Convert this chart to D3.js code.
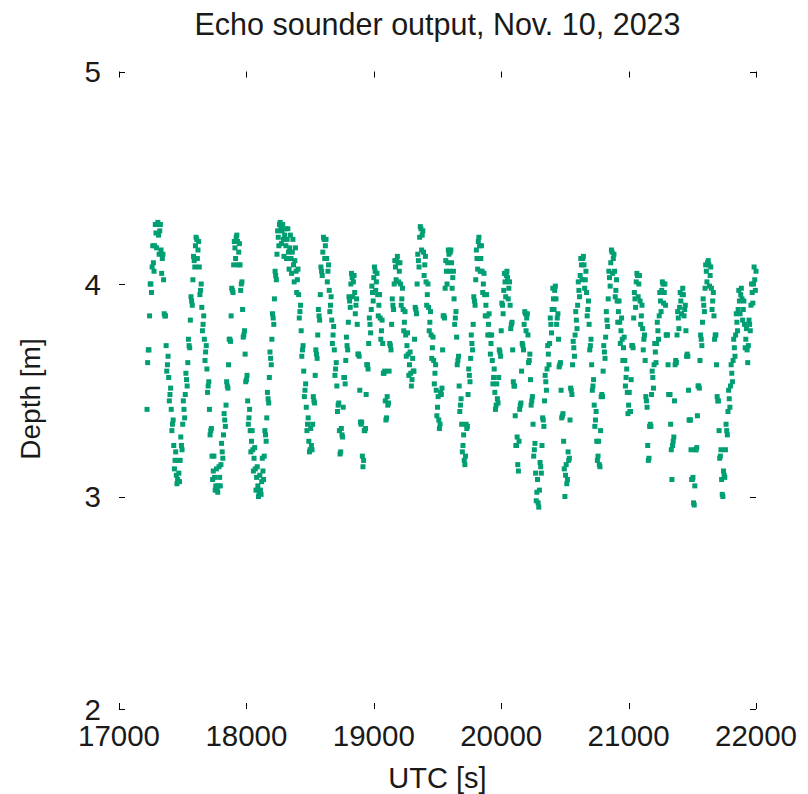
<!DOCTYPE html>
<html lang="en">
<head>
    <meta charset="UTF-8">
    <title>Echo sounder output</title>
    <script src="https://d3js.org/d3.v7.min.js"></script>
    <style>
        body { margin: 0; background: #fff; }
        svg text { font-family: "Liberation Sans", Arial, sans-serif; fill: #1a1a1a; }
    </style>
</head>
<body>
    <svg width="808" height="794"></svg>
    <script>
        // echo sounder record, one reading every 5 s
        const t0 = 17220, dt = 5;
        const depth = [
            3.41,3.63,3.69,3.69,3.85,4.00,4.00,3.96,4.08,4.18,4.10,4.06,4.18,4.28,4.24,4.17,4.28,4.29,4.23,4.14,
            4.25,4.28,4.16,4.05,4.12,4.14,4.02,3.86,3.85,3.85,3.71,3.59,3.62,3.66,3.56,3.45,3.48,3.51,3.41,3.31,
            3.34,3.36,3.24,3.13,3.17,3.21,3.10,3.06,3.08,3.17,3.11,3.07,3.17,3.28,3.24,3.22,3.34,3.45,3.41,3.37,
            3.48,3.58,3.55,3.52,3.63,3.74,3.71,3.70,3.83,3.94,3.92,3.90,4.02,4.13,4.11,4.08,4.18,4.22,4.21,4.12,
            4.16,4.20,4.08,3.95,3.97,4.00,3.89,3.78,3.81,3.85,3.74,3.64,3.68,3.71,3.60,3.49,3.52,3.54,3.41,3.29,
            3.31,3.32,3.19,3.08,3.12,3.19,3.09,3.03,3.05,3.13,3.03,3.02,3.05,3.14,3.09,3.05,3.15,3.25,3.21,3.18,
            3.29,3.39,3.36,3.33,3.43,3.54,3.52,3.51,3.62,3.74,3.74,3.73,3.85,3.98,3.97,3.96,4.09,4.20,4.17,4.12,
            4.22,4.23,4.20,4.09,4.15,4.19,4.09,3.97,4.00,4.01,3.88,3.75,3.76,3.78,3.67,3.54,3.55,3.57,3.45,3.34,
            3.37,3.41,3.31,3.21,3.26,3.31,3.22,3.12,3.18,3.23,3.13,3.03,3.09,3.14,3.05,3.00,3.02,3.10,3.03,3.01,
            3.07,3.18,3.12,3.08,3.19,3.31,3.29,3.26,3.37,3.49,3.46,3.44,3.56,3.68,3.65,3.62,3.74,3.86,3.84,3.81,
            3.93,4.06,4.04,4.02,4.14,4.25,4.22,4.18,4.28,4.29,4.27,4.19,4.25,4.28,4.21,4.13,4.23,4.26,4.18,4.12,
            4.21,4.26,4.15,4.07,4.17,4.23,4.12,4.05,4.15,4.21,4.09,4.01,4.11,4.17,4.06,3.96,4.02,4.07,3.95,3.84,
            3.87,3.90,3.78,3.66,3.69,3.71,3.59,3.47,3.50,3.53,3.42,3.31,3.34,3.37,3.26,3.21,3.22,3.32,3.24,3.22,
            3.34,3.47,3.45,3.44,3.57,3.69,3.67,3.65,3.76,3.88,3.85,3.83,3.95,4.08,4.06,4.04,4.15,4.22,4.21,4.12,
            4.18,4.21,4.12,4.01,4.06,4.09,3.97,3.87,3.90,3.94,3.83,3.72,3.76,3.80,3.69,3.57,3.60,3.63,3.52,3.40,
            3.43,3.44,3.31,3.20,3.21,3.32,3.29,3.28,3.42,3.56,3.56,3.53,3.64,3.75,3.71,3.69,3.82,3.94,3.92,3.89,
            4.00,4.05,4.03,3.94,4.01,4.04,3.96,3.86,3.90,3.93,3.81,3.67,3.67,3.66,3.50,3.35,3.34,3.35,3.19,3.14,
            3.17,3.31,3.31,3.32,3.48,3.62,3.62,3.60,3.72,3.84,3.81,3.77,3.88,3.99,3.96,3.92,4.03,4.08,4.06,3.97,
            4.01,4.05,3.95,3.85,3.90,3.95,3.84,3.74,3.78,3.83,3.72,3.58,3.58,3.59,3.45,3.36,3.37,3.47,3.43,3.44,
            3.59,3.72,3.71,3.69,3.81,3.93,3.90,3.88,4.00,4.11,4.08,4.02,4.11,4.13,4.10,4.01,4.06,4.10,4.00,3.90,
            3.93,3.98,3.88,3.78,3.82,3.87,3.76,3.66,3.71,3.77,3.67,3.57,3.62,3.68,3.58,3.52,3.55,3.65,3.59,3.59,
            3.74,3.89,3.88,3.86,4.00,4.14,4.11,4.08,4.22,4.27,4.26,4.16,4.23,4.25,4.15,4.04,4.09,4.13,4.01,3.90,
            3.95,4.00,3.89,3.78,3.82,3.87,3.76,3.65,3.70,3.75,3.64,3.53,3.58,3.62,3.50,3.38,3.42,3.47,3.36,3.32,
            3.34,3.49,3.48,3.51,3.69,3.85,3.85,3.84,3.98,4.11,4.06,4.00,4.10,4.16,4.14,4.06,4.15,4.16,4.10,3.98,
            4.03,4.06,3.93,3.81,3.84,3.87,3.75,3.62,3.64,3.66,3.52,3.40,3.43,3.46,3.34,3.21,3.24,3.29,3.17,3.15,
            3.19,3.34,3.32,3.33,3.48,3.60,3.57,3.54,3.65,3.76,3.72,3.69,3.81,3.94,3.92,3.90,4.02,4.16,4.12,4.07,
            4.20,4.22,4.18,4.06,4.12,4.18,4.06,3.96,4.00,4.05,3.95,3.85,3.90,3.95,3.85,3.76,3.81,3.86,3.76,3.67,
            3.72,3.76,3.64,3.53,3.56,3.60,3.49,3.41,3.43,3.53,3.46,3.44,3.56,3.69,3.68,3.66,3.78,3.91,3.90,3.86,
            3.97,4.05,4.01,3.94,4.04,4.06,4.03,3.93,3.98,4.01,3.90,3.79,3.81,3.82,3.69,3.54,3.52,3.52,3.38,3.24,
            3.24,3.28,3.15,3.12,3.26,3.41,3.43,3.44,3.59,3.72,3.71,3.69,3.81,3.87,3.86,3.78,3.84,3.86,3.76,3.63,
            3.64,3.67,3.55,3.43,3.45,3.47,3.34,3.19,3.22,3.25,3.11,2.98,3.02,3.08,2.97,2.95,3.03,3.16,3.14,3.11,
            3.24,3.37,3.36,3.33,3.45,3.57,3.54,3.50,3.60,3.71,3.67,3.62,3.72,3.84,3.81,3.77,3.88,3.98,3.93,3.88,
            3.97,3.99,3.93,3.81,3.84,3.86,3.74,3.61,3.62,3.63,3.50,3.37,3.38,3.39,3.26,3.13,3.00,3.10,3.15,3.06,
            3.08,3.21,3.17,3.18,3.36,3.51,3.50,3.48,3.62,3.73,3.70,3.66,3.76,3.87,3.83,3.79,3.90,4.01,3.97,3.94,
            4.04,4.12,4.09,4.02,4.12,4.13,4.09,3.98,4.02,4.06,3.96,3.85,3.88,3.92,3.81,3.69,3.71,3.74,3.62,3.50,
            3.52,3.55,3.43,3.33,3.36,3.40,3.26,3.17,3.19,3.26,3.15,3.14,3.31,3.47,3.48,3.47,3.59,3.71,3.68,3.65,
            3.75,3.87,3.83,3.80,3.93,4.06,4.03,3.99,4.10,4.16,4.15,4.05,4.12,4.14,4.06,3.94,3.97,4.02,3.92,3.82,
            3.87,3.92,3.82,3.72,3.78,3.84,3.74,3.64,3.70,3.75,3.64,3.52,3.56,3.60,3.49,3.39,3.43,3.49,3.40,3.40,
            3.55,3.71,3.71,3.70,3.84,3.96,3.93,3.89,4.01,4.05,4.04,3.94,4.00,4.04,3.92,3.81,3.85,3.90,3.79,3.69,
            3.74,3.76,3.64,3.47,3.45,3.42,3.24,3.17,3.18,3.33,3.34,3.33,3.48,3.59,3.56,3.51,3.62,3.72,3.68,3.63,
            3.72,3.82,3.78,3.74,3.85,3.96,3.92,3.87,3.97,4.01,4.00,3.91,3.96,4.00,3.90,3.76,3.76,3.76,3.62,3.48,
            3.48,3.48,3.34,3.22,3.08,3.24,3.26,3.28,3.45,3.62,3.64,3.63,3.76,3.87,3.84,3.79,3.89,3.96,3.92,3.86,
            3.95,3.98,3.95,3.85,3.88,3.90,3.78,3.66,3.67,3.66,3.50,3.36,3.36,3.36,3.22,3.08,3.08,3.09,2.97,2.96,
            3.05,3.22,3.22,3.23,3.38,3.52,3.52,3.51,3.64,3.76,3.74,3.71,3.82,3.93,3.90,3.87,3.98,4.09,4.06,4.01,
            4.10,4.11,4.09,3.99,4.04,4.08,3.98,3.88,3.92,3.96,3.85,3.74,3.76,3.76,3.62,3.47,3.45,3.45,3.31,3.18,
            3.19,3.22,3.08,3.01,3.00,3.12,3.10,3.09,3.22,3.34,3.31,3.29,3.40,3.50,3.46,3.42,3.52,3.62,3.58,3.54,
            3.64,3.74,3.70,3.66,3.76,3.86,3.82,3.78,3.88,3.97,3.92,3.86,3.95,3.98,3.93,3.83,3.88,3.92,3.81,3.70,
            3.74,3.79,3.69,3.63,3.71,3.83,3.81,3.78,3.90,4.00,3.96,3.91,4.00,4.08,4.02,3.97,4.06
        ];
        const xTicks = [17000, 18000, 19000, 20000, 21000, 22000];
        const yTicks = [2, 3, 4, 5];

        const points = depth.map((d, i) => ({ t: t0 + i * dt, d: d }));

        const svg = d3.select("svg");
        const plotLeft = 119, plotRight = 756, plotTop = 71.5, plotBottom = 709;
        const tickLen = 6;

        const x = d3.scaleLinear().domain([17000, 22000]).range([plotLeft, plotRight]);
        const y = d3.scaleLinear().domain([2, 5]).range([plotBottom, plotTop]);

        // ticks on all four sides, pointing inward, no border
        const tickG = svg.append("g").attr("stroke", "#000").attr("stroke-width", 1);
        xTicks.forEach(v => {
            const px = Math.round(x(v)) + 0.5;
            tickG.append("line").attr("x1", px).attr("x2", px)
                .attr("y1", plotBottom).attr("y2", plotBottom - tickLen);
            tickG.append("line").attr("x1", px).attr("x2", px)
                .attr("y1", plotTop).attr("y2", plotTop + tickLen);
        });
        yTicks.forEach(v => {
            const py = Math.round(y(v)) + 0.5;
            tickG.append("line").attr("x1", plotLeft).attr("x2", plotLeft + tickLen)
                .attr("y1", py).attr("y2", py);
            tickG.append("line").attr("x1", plotRight).attr("x2", plotRight - tickLen)
                .attr("y1", py).attr("y2", py);
        });

        // tick labels
        svg.append("g").selectAll("text")
            .data(xTicks)
            .enter()
            .append("text")
            .attr("x", d => x(d))
            .attr("y", 746)
            .attr("text-anchor", "middle")
            .attr("font-size", 29.5)
            .text(d => d);

        svg.append("g").selectAll("text")
            .data(yTicks)
            .enter()
            .append("text")
            .attr("x", 101)
            .attr("y", d => y(d) + 10.5)
            .attr("text-anchor", "end")
            .attr("font-size", 29.5)
            .text(d => d);

        // data points
        svg.append("g").attr("fill", "#009e73")
            .selectAll("rect")
            .data(points)
            .enter()
            .append("rect")
            .attr("x", d => x(d.t) - 2.5)
            .attr("y", d => y(d.d) - 2.5)
            .attr("width", 5)
            .attr("height", 5);

        // titles
        svg.append("text")
            .attr("x", (plotLeft + plotRight) / 2)
            .attr("y", 35)
            .attr("text-anchor", "middle")
            .attr("font-size", 30.5)
            .text("Echo sounder output, Nov. 10, 2023");

        svg.append("text")
            .attr("x", (plotLeft + plotRight) / 2)
            .attr("y", 788)
            .attr("text-anchor", "middle")
            .attr("font-size", 29)
            .text("UTC [s]");

        svg.append("text")
            .attr("transform", "translate(40,399) rotate(-90)")
            .attr("text-anchor", "middle")
            .attr("font-size", 28)
            .text("Depth [m]");
    </script>
</body>
</html>
